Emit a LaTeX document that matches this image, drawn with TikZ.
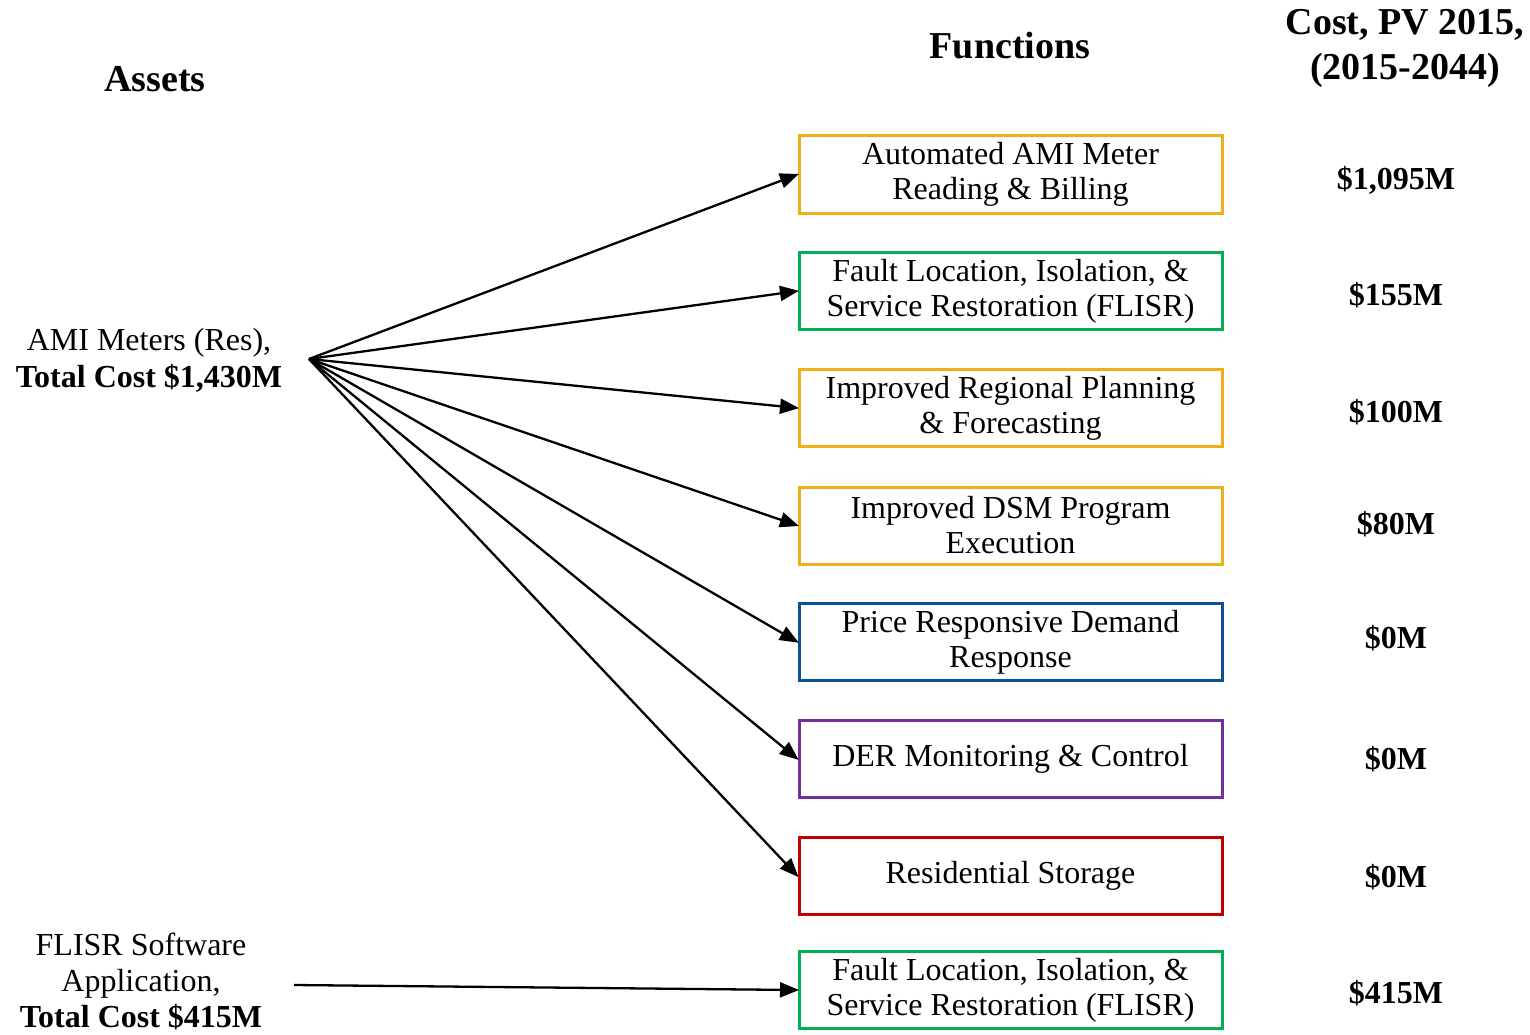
\documentclass[tikz,border=0pt]{standalone}
\usepackage{fontspec}
\setmainfont{Liberation Serif}
\usetikzlibrary{arrows.meta}
\definecolor{cgold}{HTML}{F0AE1A}
\definecolor{cgreen}{HTML}{00B050}
\definecolor{cblue}{HTML}{0A5298}
\definecolor{cpurple}{HTML}{7030A0}
\definecolor{cred}{HTML}{C00000}
\begin{document}
\begin{tikzpicture}[x=1pt,y=-1pt,
  txt/.style={font=\fontsize{32}{37}\selectfont,align=center,inner sep=0pt},
  hdr/.style={font=\bfseries\fontsize{38}{45}\selectfont,align=center,inner sep=0pt},
  cost/.style={font=\bfseries\fontsize{32}{35}\selectfont,inner sep=0pt},
  fbox/.style={draw=#1,line width=3pt,minimum width=423pt,minimum height=77pt,
     inner sep=0pt,align=center,font=\fontsize{32}{35}\selectfont},
  arr/.style={line width=2.3pt,shorten >=-1.5pt,-{Triangle[length=19pt,width=15pt]}}]
\useasboundingbox (0,0) rectangle (1530,1035);
\clip (0,0) rectangle (1530,1035);
% headers
\node[hdr] (hA) at (155,79) {Assets};
\node[hdr] (hF) at (1010,46) {Functions};
\node[hdr] (hC) at (1405,48) {Cost, PV 2015,\\(2015-2044)};
% function boxes
\node[fbox=cgold]   (b1) at (1010.5,174.5) {Automated AMI Meter\\Reading \& Billing};
\node[fbox=cgreen]  (b2) at (1010.5,291)   {Fault Location, Isolation, \&\\Service Restoration (FLISR)};
\node[fbox=cgold]   (b3) at (1010.5,408)   {Improved Regional Planning\\\& Forecasting};
\node[fbox=cgold]   (b4) at (1010.5,525.5) {Improved DSM Program\\Execution};
\node[fbox=cblue]   (b5) at (1010.5,642)   {Price Responsive Demand\\Response};
\node[fbox=cpurple] (b6) at (1010.5,759)   {DER Monitoring \& Control};
\node[fbox=cred]    (b7) at (1010.5,876)   {Residential Storage};
\node[fbox=cgreen]  (b8) at (1010.5,990)   {Fault Location, Isolation, \&\\Service Restoration (FLISR)};
% costs
\node[cost] (c1) at (1396,180) {\$1,095M};
\node[cost] (c2) at (1396,295) {\$155M};
\node[cost] (c3) at (1396,412) {\$100M};
\node[cost] (c4) at (1396,524) {\$80M};
\node[cost] (c5) at (1396,638) {\$0M};
\node[cost] (c6) at (1396,759) {\$0M};
\node[cost] (c7) at (1396,877) {\$0M};
\node[cost] (c8) at (1396,993) {\$415M};
% assets
\node[txt] (a1) at (149,360) {AMI Meters (Res),\\\textbf{Total Cost \$1,430M}};
\node[txt,font=\fontsize{32}{36}\selectfont] (a2) at (141,981) {FLISR Software\\Application,\\\textbf{Total Cost \$415M}};
\coordinate (o1) at (309,359);
\coordinate (o2) at (294,985);
\foreach \b in {b1,b2,b3,b4,b5,b6,b7}
  \draw[arr] (o1) -- (\b.west);
\draw[arr] (o2) -- (b8.west);
\end{tikzpicture}
\end{document}
